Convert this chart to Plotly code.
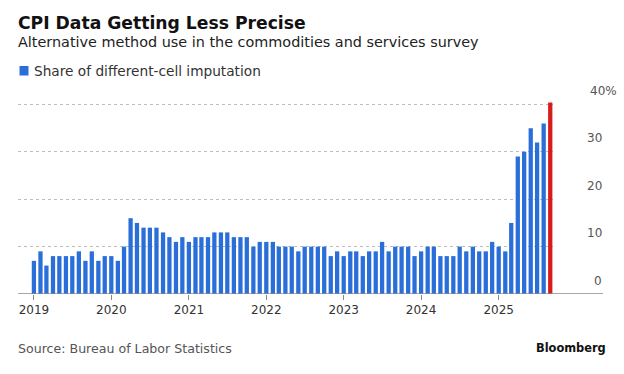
import plotly.graph_objects as go
import pandas as pd

# ---- data ----
months = pd.date_range("2019-01-01", "2025-09-01", freq="MS").strftime("%Y-%m-%d").tolist()
share_2019 = [7, 9, 6, 8, 8, 8, 8, 9, 7, 9, 7, 8]
share_2020 = [8, 7, 10, 16, 15, 14, 14, 14, 13, 12, 11, 12]
share_2021 = [11, 12, 12, 12, 13, 13, 13, 12, 12, 12, 10, 11]
share_2022 = [11, 11, 10, 10, 10, 9, 10, 10, 10, 10, 8, 9]
share_2023 = [8, 9, 9, 8, 9, 9, 11, 9, 10, 10, 10, 8]
share_2024 = [9, 10, 10, 8, 8, 8, 10, 9, 10, 9, 9, 11]
share_2025 = [10, 9, 15, 29, 30, 35, 32, 36, 40.4]
share = share_2019 + share_2020 + share_2021 + share_2022 + share_2023 + share_2024 + share_2025
y_ticks = [0, 10, 20, 30, 40]
y_tick_labels = ["0", "10", "20", "30", "40%"]

# ---- layout geometry (pixels) ----
W, H = 624, 374
L, R = 18, 553          # plot area x
T, B = 95, 294          # plot area y
PW, PH = R - L, B - T

def px_x(x):
    return (x - L) / PW

def px_y(y):
    return (B - y) / PH

BLUE = "#2a6fd9"
RED = "#d61c1c"
colors = [BLUE] * (len(share) - 1) + [RED]

fig = go.Figure()
fig.add_trace(go.Bar(x=months, y=share, marker=dict(color=colors, line=dict(width=0)),
                     showlegend=False, hoverinfo="x+y"))

FONT = "DejaVu Sans"
annotations = []
# y tick labels above gridlines
for v, t in zip(y_ticks, y_tick_labels):
    if t.endswith("%"):
        annotations.append(dict(x=px_x(588), y=v, xref="paper", yref="y", text=t, showarrow=False,
                                xanchor="left", yanchor="middle", yshift=13.5,
                                font=dict(family=FONT, size=12, color="#555")))
    else:
        annotations.append(dict(x=px_x(604), y=v, xref="paper", yref="y", text=t, showarrow=False,
                                xanchor="right", yanchor="middle", yshift=13.5,
                                font=dict(family=FONT, size=12, color="#555")))

annotations += [
    dict(x=px_x(16), y=px_y(22.5), xref="paper", yref="paper", text="<b>CPI Data Getting Less Precise</b>",
         showarrow=False, xanchor="left", yanchor="middle",
         font=dict(family=FONT, size=17.2, color="#111")),
    dict(x=px_x(16), y=px_y(42), xref="paper", yref="paper",
         text="Alternative method use in the commodities and services survey",
         showarrow=False, xanchor="left", yanchor="middle",
         font=dict(family=FONT, size=14.4, color="#222")),
    dict(x=px_x(32), y=px_y(71), xref="paper", yref="paper", text="Share of different-cell imputation",
         showarrow=False, xanchor="left", yanchor="middle",
         font=dict(family=FONT, size=13.7, color="#333")),
    dict(x=px_x(16), y=px_y(348), xref="paper", yref="paper", text="Source: Bureau of Labor Statistics",
         showarrow=False, xanchor="left", yanchor="middle",
         font=dict(family=FONT, size=12.6, color="#555")),
    dict(x=px_x(608), y=px_y(348), xref="paper", yref="paper", text="<b>Bloomberg</b>",
         showarrow=False, xanchor="right", yanchor="middle",
         font=dict(family=FONT, size=11.4, color="#111")),
]

shapes = [
    # baseline extending past the plot
    dict(type="line", xref="paper", yref="y", x0=0, x1=px_x(603), y0=0, y1=0,
         line=dict(color="#8a8a8a", width=1.5), layer="above"),
    # legend swatch
    dict(type="rect", xref="paper", yref="paper", x0=px_x(19.5), x1=px_x(28.5),
         y0=px_y(66), y1=px_y(75.5), fillcolor=BLUE, line=dict(width=0)),
]

fig.update_layout(
    width=W, height=H,
    margin=dict(l=L, r=W - R, t=T, b=H - B, autoexpand=False),
    paper_bgcolor="white", plot_bgcolor="white",
    bargap=0.28,
    annotations=annotations, shapes=shapes,
    xaxis=dict(type="date", range=["2018-10-18", "2025-09-14"],
               tick0="2019-01-01", dtick="M12", tickformat="%Y",
               ticks="outside", ticklen=5, tickcolor="#8a8a8a", tickwidth=1,
               showgrid=False, showline=False, zeroline=False,
               tickfont=dict(family=FONT, size=12, color="#333"), automargin=False),
    yaxis=dict(range=[0, 42], tickvals=[10, 20, 30, 40], showticklabels=False,
               showgrid=True, gridcolor="#bdbdbd", griddash="dot", gridwidth=1,
               zeroline=False, showline=False, automargin=False),
    font=dict(family=FONT),
)

fig.write_html("out.html", config={"displayModeBar": False},
               post_script="document.body.style.margin='0';")
